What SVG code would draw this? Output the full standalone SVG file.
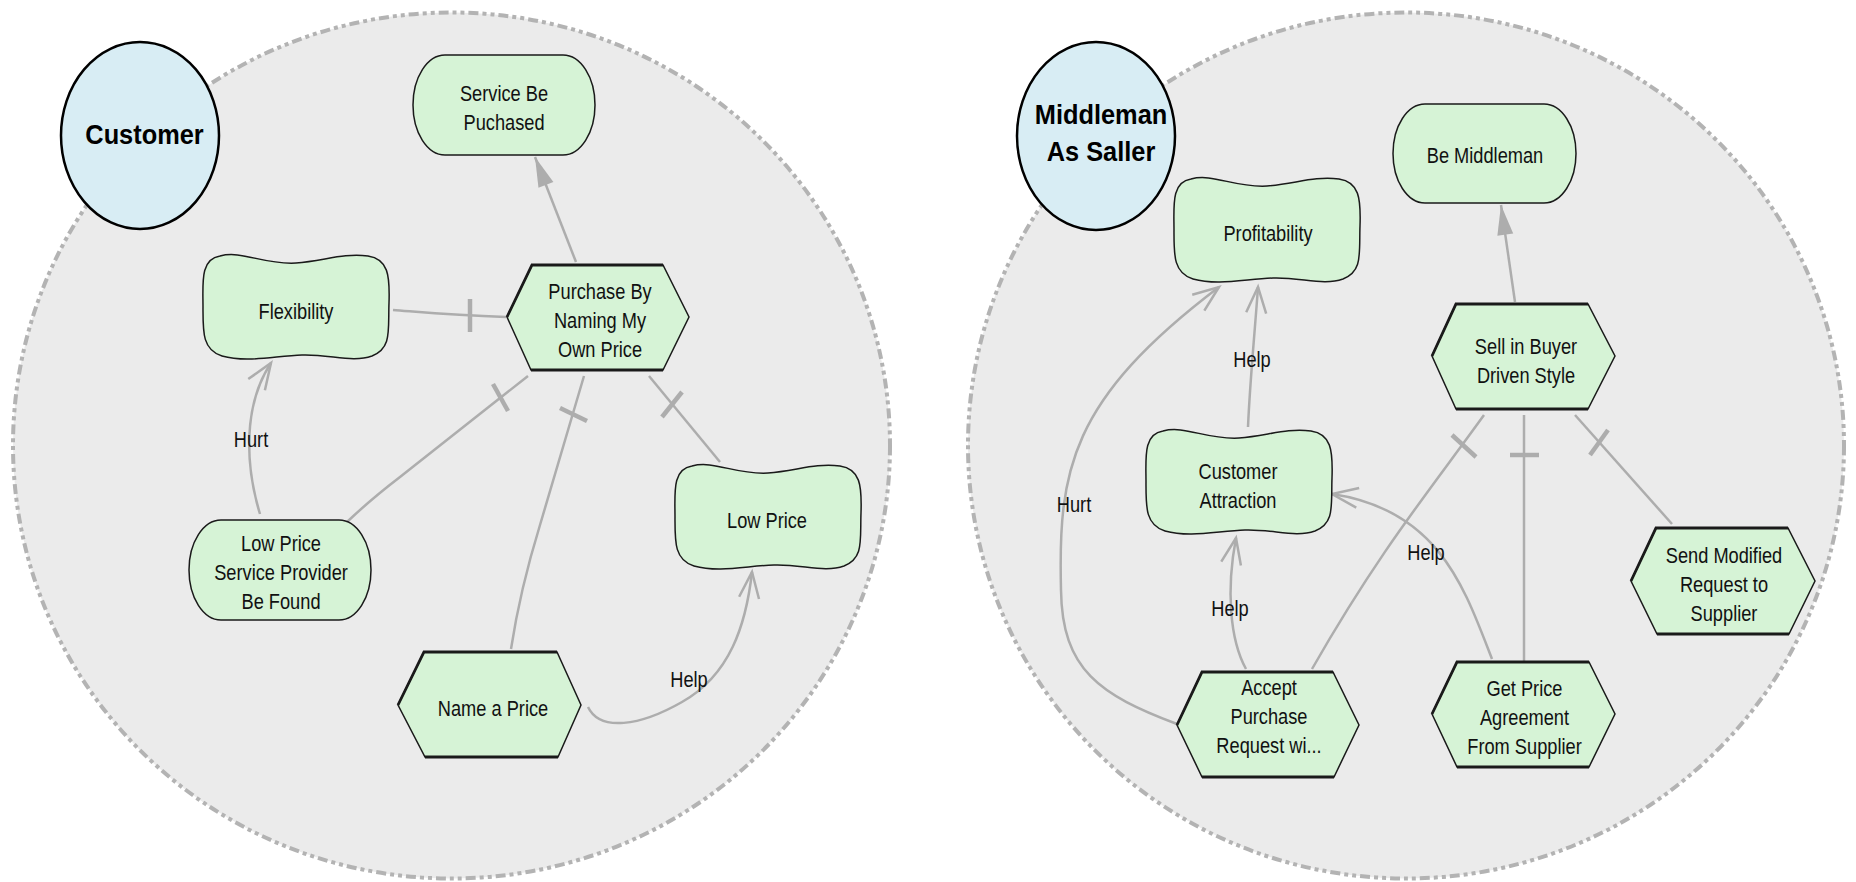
<svg xmlns="http://www.w3.org/2000/svg" xmlns:xlink="http://www.w3.org/1999/xlink" width="1856" height="882" viewBox="0 0 1856 882">
<style>
.bnd{fill:#ebebeb;stroke:#b3b3b3;stroke-width:4;stroke-dasharray:10 4 4 4 4 4}
.actor{fill:#d8edf4;stroke:#000;stroke-width:2.5}
.alab{font-family:"Liberation Sans",Arial,sans-serif;font-weight:bold;font-size:27px;fill:#000;text-anchor:middle}
.node{fill:#d6f3d6;stroke:#1a1a1a;stroke-width:1.5}
.edge{fill:none;stroke:#1a1a1a;stroke-width:2.8}
.t{font-family:"Liberation Sans",Arial,sans-serif;font-size:22.5px;fill:#111;text-anchor:middle}
.ln{fill:none;stroke:#adadad;stroke-width:2.5}
.tick{stroke:#adadad;stroke-width:4.5;fill:none}
</style>
<defs>
<path id="sg" d="M 18 3 C 40 -3, 62 12, 94 10 C 122 8, 140 0, 166 3 C 186 6, 188 22, 187 50 C 186 78, 190 95, 170 103 C 150 110, 128 101, 100 102 C 72 103, 45 110, 20 103 C 0 97, 1 78, 1 54 C 1 30, -2 6, 18 3 Z"/>
<marker id="open" viewBox="-30 -14 34 28" refX="0" refY="0" markerWidth="34" markerHeight="28" orient="auto" markerUnits="userSpaceOnUse">
<path d="M -26 -10 L 0 0 L -26 10" fill="none" stroke="#adadad" stroke-width="2.5"/>
</marker>
<marker id="fill" viewBox="-32 -10 34 20" refX="0" refY="0" markerWidth="34" markerHeight="20" orient="auto" markerUnits="userSpaceOnUse">
<path d="M -30 -8 L 0 0 L -30 8 Z" fill="#adadad"/>
</marker>
</defs>

<g id="boundaries">
<ellipse class="bnd" cx="451.5" cy="445.5" rx="438.5" ry="433"/>
<ellipse class="bnd" cx="1406" cy="445.5" rx="438" ry="433"/>
</g>

<g id="connectors">
<path class="ln" d="M 576 262 L 535 157" marker-end="url(#fill)"/>
<path class="ln" d="M 393 310 C 420 312, 450 315, 506 317"/>
<line class="tick" x1="470" y1="299" x2="470" y2="332"/>
<path class="ln" d="M 528 376 L 400 477 Q 370 500 347 522"/>
<line class="tick" x1="493" y1="384" x2="508" y2="411"/>
<path class="ln" d="M 584 376 L 540 525 Q 520 590 511 649"/>
<line class="tick" x1="560" y1="408" x2="587" y2="421"/>
<path class="ln" d="M 649 376 L 720 462"/>
<line class="tick" x1="682" y1="392" x2="662" y2="417"/>
<path class="ln" d="M 260 514 C 245 465, 243 405, 271 363" marker-end="url(#open)"/>
<path class="ln" d="M 588 707 C 600 732, 640 726, 682 702 C 730 675, 746 625, 752 572" marker-end="url(#open)"/>

<path class="ln" d="M 1515 302 L 1501 205" marker-end="url(#fill)"/>
<path class="ln" d="M 1248 427 C 1250 380, 1255 330, 1258 287" marker-end="url(#open)"/>
<path class="ln" d="M 1177 724 C 1100 695, 1062 670, 1061 590 C 1058 470, 1070 400, 1219 287" marker-end="url(#open)"/>
<path class="ln" d="M 1246 669 C 1230 640, 1226 590, 1236 538" marker-end="url(#open)"/>
<path class="ln" d="M 1492 659 C 1465 590, 1440 510, 1332 494" marker-end="url(#open)"/>
<path class="ln" d="M 1484 415 C 1430 490, 1380 550, 1312 669"/>
<line class="tick" x1="1452" y1="435" x2="1476" y2="457"/>
<path class="ln" d="M 1524 415 L 1524 662"/>
<line class="tick" x1="1510" y1="455" x2="1539" y2="455"/>
<path class="ln" d="M 1575 415 L 1672 524"/>
<line class="tick" x1="1590" y1="455" x2="1608" y2="430"/>

<text class="t" transform="translate(251 0) scale(0.81 1)"><tspan x="0" y="447">Hurt</tspan></text>
<text class="t" transform="translate(689 0) scale(0.81 1)"><tspan x="0" y="687">Help</tspan></text>
<text class="t" transform="translate(1252 0) scale(0.81 1)"><tspan x="0" y="367">Help</tspan></text>
<text class="t" transform="translate(1074 0) scale(0.81 1)"><tspan x="0" y="512">Hurt</tspan></text>
<text class="t" transform="translate(1230 0) scale(0.81 1)"><tspan x="0" y="616">Help</tspan></text>
<text class="t" transform="translate(1426 0) scale(0.81 1)"><tspan x="0" y="560">Help</tspan></text>
</g>

<g id="actor-customer">
<ellipse class="actor" cx="140" cy="135.5" rx="79" ry="93.5"/>
<text class="alab" transform="translate(144.5 0) scale(0.94 1)"><tspan x="0" y="144">Customer</tspan></text>
</g>
<g id="actor-middleman">
<ellipse class="actor" cx="1096" cy="136" rx="79" ry="94"/>
<text class="alab" transform="translate(1101 0) scale(0.94 1)"><tspan x="0" y="124">Middleman</tspan><tspan x="0" y="161">As Saller</tspan></text>
</g>

<g id="n-service">
<rect class="node" x="413" y="55" width="182" height="100" rx="32" ry="50"/>
<text class="t" transform="translate(504 0) scale(0.81 1)"><tspan x="0" y="101">Service Be</tspan><tspan x="0" y="130">Puchased</tspan></text>
</g>
<g id="n-flexibility">
<use href="#sg" xlink:href="#sg" class="node" x="202" y="253"/>
<text class="t" transform="translate(296 0) scale(0.81 1)"><tspan x="0" y="319">Flexibility</tspan></text>
</g>
<g id="n-purchase">
<polygon class="node" points="532,265 663,265 689,317 663,370 531,370 507,317"/>
<path class="edge" d="M 507 317 L 532 265 H 663 M 531 370 H 663"/>
<text class="t" transform="translate(600 0) scale(0.81 1)"><tspan x="0" y="299">Purchase By</tspan><tspan x="0" y="328">Naming My</tspan><tspan x="0" y="357">Own Price</tspan></text>
</g>
<g id="n-lpspbf">
<rect class="node" x="189" y="520" width="182" height="100" rx="32" ry="50"/>
<text class="t" transform="translate(281 0) scale(0.81 1)"><tspan x="0" y="551">Low Price</tspan><tspan x="0" y="580">Service Provider</tspan><tspan x="0" y="609">Be Found</tspan></text>
</g>
<g id="n-lowprice">
<use href="#sg" xlink:href="#sg" class="node" x="674" y="463"/>
<text class="t" transform="translate(767 0) scale(0.81 1)"><tspan x="0" y="528">Low Price</tspan></text>
</g>
<g id="n-nameaprice">
<polygon class="node" points="424,652 557,652 581,705 558,757 425,757 398,705"/>
<path class="edge" d="M 398 705 L 424 652 H 557 M 425 757 H 558"/>
<text class="t" transform="translate(493 0) scale(0.81 1)"><tspan x="0" y="716">Name a Price</tspan></text>
</g>

<g id="n-bemiddleman">
<rect class="node" x="1393" y="104" width="183" height="99" rx="32" ry="49.5"/>
<text class="t" transform="translate(1485 0) scale(0.81 1)"><tspan x="0" y="163">Be Middleman</tspan></text>
</g>
<g id="n-profitability">
<use href="#sg" xlink:href="#sg" class="node" x="1173" y="176"/>
<text class="t" transform="translate(1268 0) scale(0.81 1)"><tspan x="0" y="241">Profitability</tspan></text>
</g>
<g id="n-sell">
<polygon class="node" points="1456,304 1588,304 1615,356 1588,409 1456,409 1432,356"/>
<path class="edge" d="M 1432 356 L 1456 304 H 1588 M 1456 409 H 1588"/>
<text class="t" transform="translate(1526 0) scale(0.81 1)"><tspan x="0" y="354">Sell in Buyer</tspan><tspan x="0" y="383">Driven Style</tspan></text>
</g>
<g id="n-custattr">
<use href="#sg" xlink:href="#sg" class="node" x="1145" y="428"/>
<text class="t" transform="translate(1238 0) scale(0.81 1)"><tspan x="0" y="479">Customer</tspan><tspan x="0" y="508">Attraction</tspan></text>
</g>
<g id="n-sendmod">
<polygon class="node" points="1656,528 1788,528 1815,581 1789,634 1657,634 1631,581"/>
<path class="edge" d="M 1631 581 L 1656 528 H 1788 M 1657 634 H 1789"/>
<text class="t" transform="translate(1724 0) scale(0.81 1)"><tspan x="0" y="563">Send Modified</tspan><tspan x="0" y="592">Request to</tspan><tspan x="0" y="621">Supplier</tspan></text>
</g>
<g id="n-accept">
<polygon class="node" points="1202,672 1333,672 1359,725 1334,777 1202,777 1177,725"/>
<path class="edge" d="M 1177 725 L 1202 672 H 1333 M 1202 777 H 1334"/>
<text class="t" transform="translate(1269 0) scale(0.81 1)"><tspan x="0" y="695">Accept</tspan><tspan x="0" y="724">Purchase</tspan><tspan x="0" y="753">Request wi...</tspan></text>
</g>
<g id="n-getprice">
<polygon class="node" points="1457,662 1589,662 1615,714 1589,767 1457,767 1432,714"/>
<path class="edge" d="M 1432 714 L 1457 662 H 1589 M 1457 767 H 1589"/>
<text class="t" transform="translate(1524.5 0) scale(0.81 1)"><tspan x="0" y="696">Get Price</tspan><tspan x="0" y="725">Agreement</tspan><tspan x="0" y="754">From Supplier</tspan></text>
</g>
</svg>
